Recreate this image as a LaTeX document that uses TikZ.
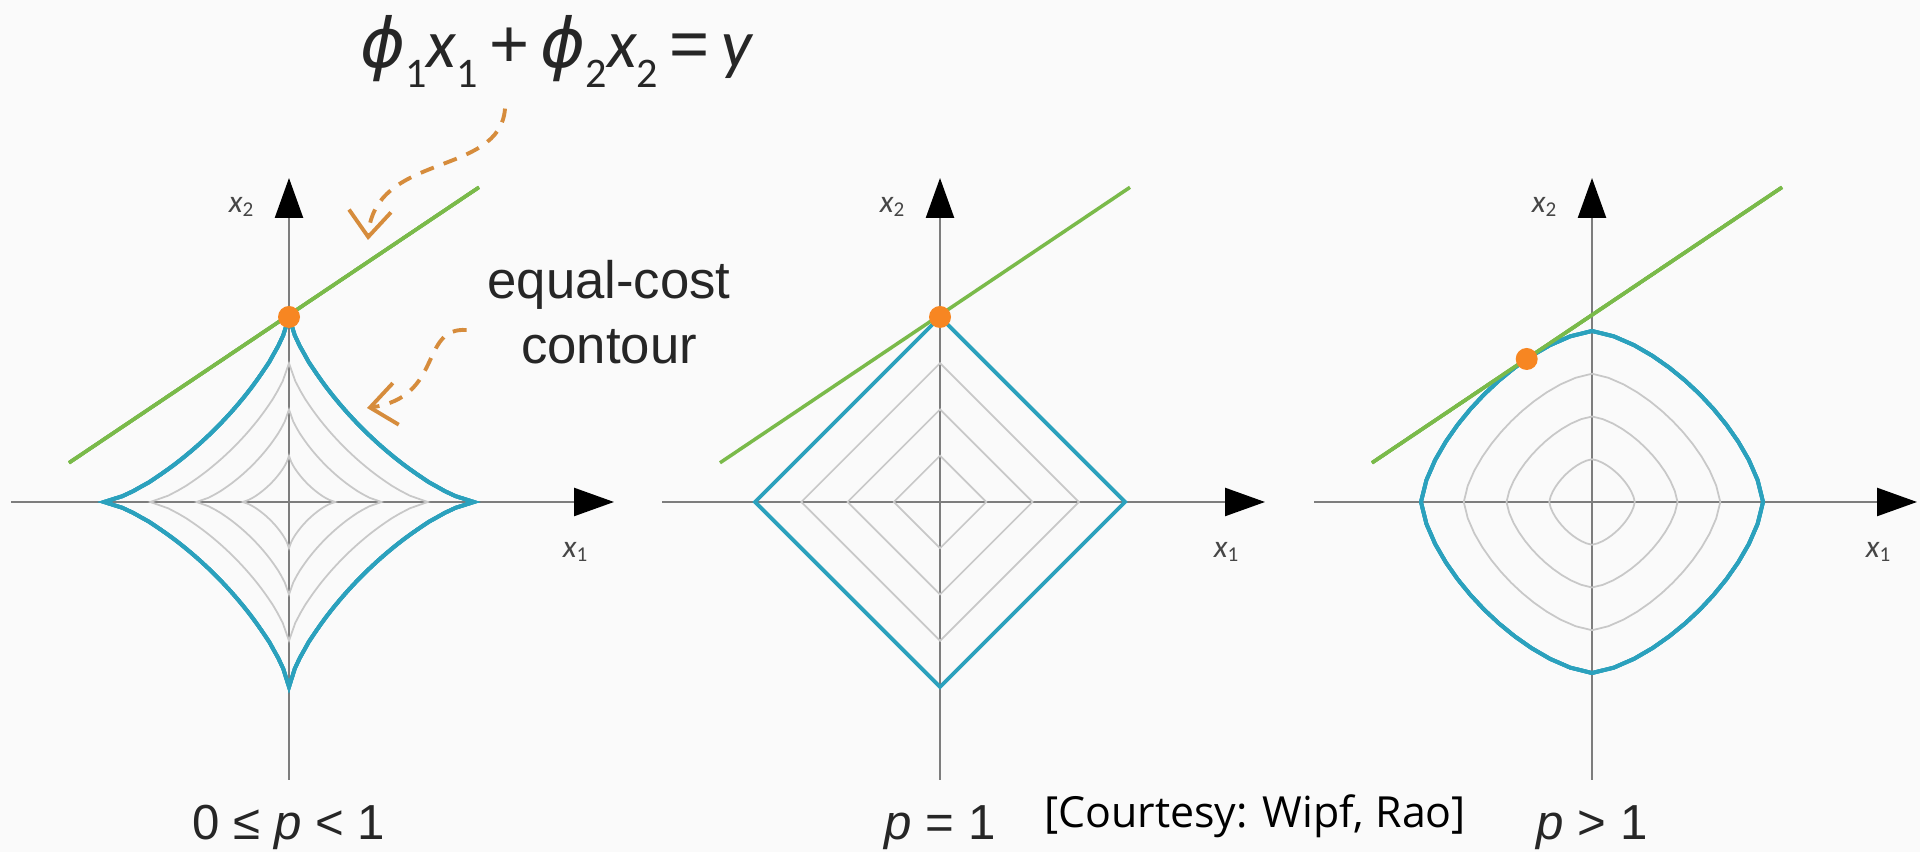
\documentclass[tikz,border=0pt]{standalone}
\usepackage{fontspec}
\setmainfont{Liberation Sans}
\newfontfamily\calfont{Carlito}
\newfontfamily\phifont{DejaVu Sans}
\newfontfamily\notefont{Open Sans}
\usetikzlibrary{arrows.meta,positioning}
\definecolor{contourblue}{RGB}{43,161,189}
\definecolor{linegreen}{RGB}{122,186,74}
\definecolor{dotorange}{RGB}{247,134,34}
\definecolor{arroworange}{RGB}{214,140,60}
\definecolor{axisgrey}{RGB}{125,125,125}
\definecolor{levelgrey}{RGB}{200,200,200}
\definecolor{axistext}{RGB}{70,70,70}
\definecolor{bgwhite}{RGB}{250,250,250}

% x_n label on the axes
\newcommand\axvar[1]{{\calfont\itshape x}\textsubscript{\calfont #1}}
% lowered index in the equation
\newcommand\eqsub[1]{\raisebox{-0.55ex}{\calfont\fontsize{12}{13}\selectfont #1}}
% closed |x|^p+|y|^p=R^p curve, sampled by angle
\newcommand\pcurve[4]{%
  \draw[#1] plot[domain=0:360, samples=#4, variable=\t]
    ({#3*cos(\t)*pow(pow(abs(cos(\t))+0.00001,#2)+pow(abs(sin(\t))+0.00001,#2),-1/#2)},
     {#3*sin(\t)*pow(pow(abs(cos(\t))+0.00001,#2)+pow(abs(sin(\t))+0.00001,#2),-1/#2)}) -- cycle;}

\begin{document}
\begin{tikzpicture}[
  axis/.style={draw=axisgrey, line width=0.7pt, -{Triangle[length=4mm, width=2.8mm, black]}},
  level/.style={draw=levelgrey, line width=0.5pt},
  contour/.style={draw=contourblue, line width=1.1pt},
  budget/.style={draw=linegreen, line width=1pt},
  hit/.style={fill=dotorange},
  note/.style={draw=arroworange, line width=1.1pt, dash pattern=on 4pt off 3pt, -{Straight Barb[length=2.6mm, width=4.2mm]}},
  axlabel/.style={font=\fontsize{9}{10}\selectfont, text=axistext, inner sep=0pt},
  caption/.style={font=\fontsize{14}{16}\selectfont, text=black!85, anchor=base, inner sep=0pt},
]
  \fill[bgwhite] (0,0) rectangle (19.2,8.52);
  \useasboundingbox (0,0) rectangle (19.2,8.52);

  % 0 <= p < 1
  \begin{scope}[shift={(2.89,3.50)}]
    \draw[axis] (-2.78,0) -- (3.25,0);
    \draw[axis] (0,-2.78) -- (0,3.24);
    \foreach \s in {0.4625,0.925,1.3875}
      \pcurve{level}{0.75}{\s}{121}
    \pcurve{contour}{0.75}{1.85}{181}
    \draw[budget] (-2.2,0.392) -- (1.9,3.147);
    \fill[hit] (0,1.85) circle (0.11);
    \node[axlabel] (x2a) at (-0.47,2.95) {\axvar{2}};
    \node[axlabel] (x1a) at (2.87,-0.5) {\axvar{1}};
    \node[caption] (pa) at (0,-3.38) {0 ≤ \textit{p} < 1};
  \end{scope}

  % p = 1
  \begin{scope}[shift={(9.40,3.50)}]
    \draw[axis] (-2.78,0) -- (3.25,0);
    \draw[axis] (0,-2.78) -- (0,3.24);
    \foreach \s in {0.4625,0.925,1.3875}
      \draw[level] (\s,0) -- (0,\s) -- (-\s,0) -- (0,-\s) -- cycle;
    \draw[contour] (1.85,0) -- (0,1.85) -- (-1.85,0) -- (0,-1.85) -- cycle;
    \draw[budget] (-2.2,0.392) -- (1.9,3.147);
    \fill[hit] (0,1.85) circle (0.11);
    \node[axlabel] (x2b) at (-0.47,2.95) {\axvar{2}};
    \node[axlabel] (x1b) at (2.87,-0.5) {\axvar{1}};
    \node[caption] (pb) at (0,-3.38) {\textit{p} = 1};
  \end{scope}

  % p > 1
  \begin{scope}[shift={(15.92,3.50)}]
    \draw[axis] (-2.78,0) -- (3.25,0);
    \draw[axis] (0,-2.78) -- (0,3.24);
    \foreach \s in {0.4275,0.855,1.2825}
      \pcurve{level}{1.5}{\s}{49}
    \pcurve{contour}{1.5}{1.71}{49}
    \draw[budget] (-2.2,0.392) -- (1.9,3.147);
    \fill[hit] (-0.653,1.430) circle (0.11);
    \node[axlabel] (x2c) at (-0.47,2.95) {\axvar{2}};
    \node[axlabel] (x1c) at (2.87,-0.5) {\axvar{1}};
    \node[caption] (pc) at (0,-3.38) {\textit{p} > 1};
  \end{scope}

  % annotations
  \node[font=\fontsize{19.5}{22}\selectfont, anchor=base, inner sep=0pt, text=black!85] (eq) at (5.56,7.84)
    {{\phifont\itshape ϕ}\eqsub{1}{\calfont\itshape x}\eqsub{1}\,+\,%
     {\phifont\itshape ϕ}\eqsub{2}{\calfont\itshape x}\eqsub{2}\,=\,%
     {\calfont\itshape y}};
  \node[font=\fontsize{15}{18.5}\selectfont, align=center, text=black!85, inner sep=0pt] (cost) at (6.09,5.40)
    {equal-cost\\contour};
  \node[font=\notefont\fontsize{12.2}{14}\selectfont, anchor=base, inner sep=0pt] (credit) at (12.55,0.24)
    {[Courtesy: Wipf, Rao]};

  \coordinate (lineend) at (3.68,6.12);
  \coordinate (curveend) at (3.67,4.44);
  \draw[note] ([xshift=-5.1mm, yshift=-2mm]eq.south) .. controls (5.0,6.75) and (3.74,7.00) .. (lineend);
  \draw[note] ([xshift=-2mm, yshift=-1.8mm]cost.west) .. controls (4.19,5.25) and (4.44,4.55) .. (curveend);
\end{tikzpicture}
\end{document}
